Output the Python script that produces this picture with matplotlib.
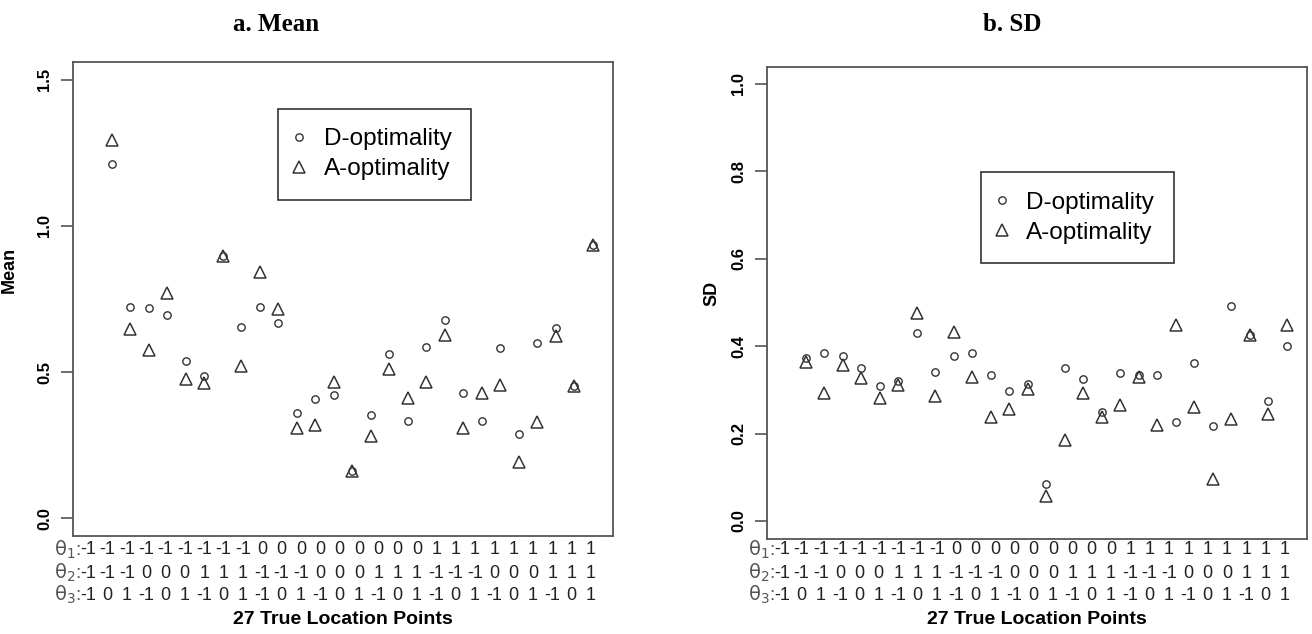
import matplotlib
matplotlib.use('Agg')
import matplotlib.pyplot as plt
import matplotlib.transforms as mtransforms

plt.rcParams['font.family'] = ['Liberation Sans', 'DejaVu Sans']

# 27 true location points
points = list(range(1, 28))
theta1 = [-1, -1, -1, -1, -1, -1, -1, -1, -1, 0, 0, 0, 0, 0, 0, 0, 0, 0, 1, 1, 1, 1, 1, 1, 1, 1, 1]
theta2 = [-1, -1, -1, 0, 0, 0, 1, 1, 1, -1, -1, -1, 0, 0, 0, 1, 1, 1, -1, -1, -1, 0, 0, 0, 1, 1, 1]
theta3 = [-1, 0, 1, -1, 0, 1, -1, 0, 1, -1, 0, 1, -1, 0, 1, -1, 0, 1, -1, 0, 1, -1, 0, 1, -1, 0, 1]

# a. Mean
mean_D = [1.21, 0.722, 0.718, 0.696, 0.539, 0.488, 0.898, 0.655, 0.722, 0.669, 0.36, 0.408, 0.421, 0.162,
          0.353, 0.561, 0.334, 0.587, 0.678, 0.429, 0.334, 0.583, 0.289, 0.601, 0.652, 0.451, 0.935]
mean_A = [1.293, 0.648, 0.576, 0.769, 0.478, 0.463, 0.898, 0.521, 0.841, 0.717, 0.31, 0.321, 0.465, 0.162,
          0.283, 0.51, 0.412, 0.465, 0.626, 0.31, 0.428, 0.456, 0.193, 0.331, 0.623, 0.451, 0.935]

# b. SD
sd_D = [0.373, 0.385, 0.377, 0.349, 0.309, 0.321, 0.43, 0.341, 0.378, 0.385, 0.333, 0.298, 0.313, 0.085,
        0.351, 0.325, 0.249, 0.339, 0.335, 0.333, 0.227, 0.362, 0.217, 0.491, 0.426, 0.274, 0.4]
sd_A = [0.365, 0.294, 0.357, 0.328, 0.282, 0.311, 0.475, 0.286, 0.432, 0.329, 0.237, 0.257, 0.302, 0.057,
        0.186, 0.294, 0.237, 0.265, 0.33, 0.219, 0.449, 0.262, 0.096, 0.233, 0.425, 0.246, 0.448]

mean_ticks = [0.0, 0.5, 1.0, 1.5]
sd_ticks = [0.0, 0.2, 0.4, 0.6, 0.8, 1.0]

W, H = 1312, 634
fig = plt.figure(figsize=(W / 100, H / 100), dpi=100)

edge = '#555555'
mark = '#333333'


def panel(rect, d_vals, a_vals, ylim, yticks, ylabel, ylabel_xy, legend_xy, title, title_x):
    ax = fig.add_axes(rect)
    ax.plot(points, d_vals, linestyle='none', marker='o', ms=5.3, mfc='none', mec=mark, mew=1.0,
            label='D-optimality')
    ax.plot(points, a_vals, linestyle='none', marker='^', ms=8.5, mfc='none', mec=mark, mew=1.1,
            label='A-optimality')
    ax.set_xlim(-1.08, 28.08)
    ax.set_ylim(*ylim)
    ax.set_xticks([])
    ax.set_yticks(yticks)
    ax.set_yticklabels([f'{t:.1f}' for t in yticks], rotation=90, va='center',
                       fontweight='bold', fontsize=12)
    ax.tick_params(axis='y', length=9, width=1.2, color=edge, pad=6)
    for s in ax.spines.values():
        s.set_color(edge)
        s.set_linewidth(1.3)
    ax.set_ylabel(ylabel, fontsize=13, fontweight='bold')
    ax.yaxis.set_label_coords(*ylabel_xy)

    leg = ax.legend(loc='upper left', bbox_to_anchor=legend_xy, borderaxespad=0, fontsize=17.5,
                    fancybox=False, edgecolor='#333333', framealpha=1, handlelength=0.15,
                    handletextpad=0.92, borderpad=0.8, labelspacing=0.33)
    leg.get_frame().set_linewidth(1.2)

    # theta rows under the plot: one evenly spaced string of values per row
    trans = mtransforms.blended_transform_factory(ax.transAxes, fig.transFigure)
    row_y = [550, 573, 595]
    x0, x1 = 0.028, 0.959
    n = len(points)
    for k, (vals, py) in enumerate(zip([theta1, theta2, theta3], row_y)):
        yf = 1 - py / H
        for i, v in enumerate(vals):
            ax.text(x0 + (x1 - x0) * i / (n - 1), yf, str(v), transform=trans, ha='center',
                    va='center', fontsize=13, color='#222222', clip_on=False)
        ax.text(0.014, yf, r'$\mathrm{\theta}_%d$:' % (k + 1), transform=trans, ha='right',
                va='center', fontsize=14, color='#555555', clip_on=False)

    ax.text(0.5, 1 - 619 / H, '27 True Location Points', transform=trans,
            ha='center', va='center', fontsize=14, fontweight='bold')
    fig.text(title_x / W, 1 - 31 / H, title, family='Liberation Serif', fontweight='bold',
             fontsize=18, ha='center', va='baseline')
    return ax


panel([73 / W, 1 - 536 / H, 540 / W, 474 / H], mean_D, mean_A, (-0.06, 1.56), mean_ticks, 'Mean',
      (-0.102, 0.561), (0.38, 0.901), 'a. Mean', 276)
panel([767 / W, 1 - 538.5 / H, 540 / W, 472 / H], sd_D, sd_A, (-0.04, 1.04), sd_ticks, 'SD',
      (-0.087, 0.52), (0.396, 0.776), 'b. SD', 1012)

fig.savefig('out.png', dpi=100)
